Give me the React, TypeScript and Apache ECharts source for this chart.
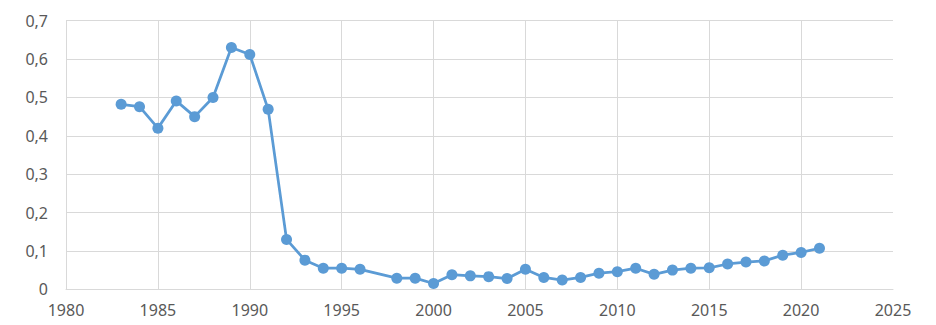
import React, { useEffect, useRef } from "react";
import * as echarts from "echarts";

const years = [
  1983, 1984, 1985, 1986, 1987, 1988, 1989, 1990, 1991, 1992, 1993, 1994, 1995, 1996,
  1998, 1999, 2000, 2001, 2002, 2003, 2004, 2005, 2006, 2007, 2008, 2009, 2010, 2011,
  2012, 2013, 2014, 2015, 2016, 2017, 2018, 2019, 2020, 2021,
];
const values = [
  0.482, 0.476, 0.42, 0.491, 0.45, 0.5, 0.63, 0.612, 0.469, 0.13, 0.076, 0.055, 0.055, 0.052,
  0.029, 0.029, 0.015, 0.038, 0.035, 0.033, 0.028, 0.052, 0.031, 0.024, 0.031, 0.042, 0.046, 0.055,
  0.039, 0.05, 0.055, 0.056, 0.066, 0.071, 0.074, 0.089, 0.096, 0.107,
];

export default function App() {
  const ref = useRef<HTMLDivElement>(null);
  useEffect(() => {
    if (!ref.current) return;
    const chart = echarts.init(ref.current, undefined, { renderer: "svg" });
    const font = "'Noto Sans', sans-serif";
    chart.setOption({
      animation: false,
      grid: { left: 66, right: 43, top: 20.7, bottom: 35.7, containLabel: false },
      xAxis: {
        type: "value",
        min: 1980,
        max: 2025,
        interval: 5,
        axisLine: { show: true, lineStyle: { color: "#d9d9d9", width: 1 } },
        axisTick: { show: false },
        axisLabel: {
          color: "#595959",
          fontSize: 16,
          fontFamily: font,
          margin: 13,
          formatter: (v: number) => String(v),
        },
        splitLine: { show: true, showMaxLine: false, lineStyle: { color: "#d9d9d9", width: 1 } },
      },
      yAxis: {
        type: "value",
        min: 0,
        max: 0.7,
        interval: 0.1,
        axisLine: { show: false },
        axisTick: { show: false },
        axisLabel: {
          color: "#595959",
          fontSize: 16,
          fontFamily: font,
          margin: 18,
          formatter: (v: number) => (Math.round(v * 10) / 10).toString().replace(".", ","),
        },
        splitLine: { show: true, lineStyle: { color: "#d9d9d9", width: 1 } },
      },
      series: [
        {
          type: "line",
          data: years.map((y, i) => [y, values[i]]),
          symbol: "circle",
          symbolSize: 11,
          lineStyle: { color: "#5b9bd5", width: 2.75 },
          itemStyle: { color: "#5b9bd5" },
        },
      ],
    });
    return () => chart.dispose();
  }, []);
  return (
    <div
      ref={ref}
      style={{ position: "absolute", left: 0, top: 0, width: 936, height: 325, background: "#fff" }}
    />
  );
}
